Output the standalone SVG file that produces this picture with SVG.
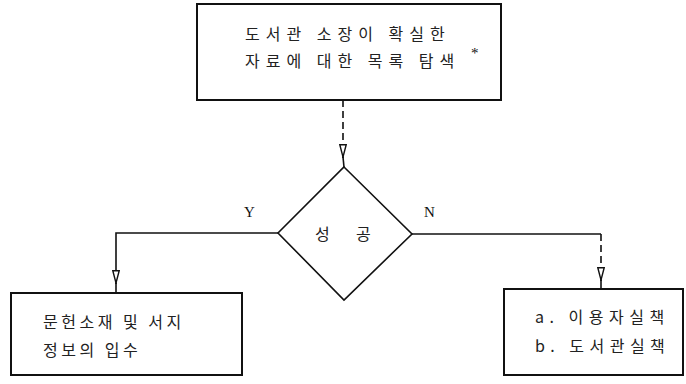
<svg xmlns="http://www.w3.org/2000/svg" width="686" height="384" viewBox="0 0 686 384">
<style>
.box{fill:#fff;stroke:#111;stroke-width:2}
.t{font-family:"Noto Sans CJK KR","Noto Sans",sans-serif;font-size:16px;fill:#222;letter-spacing:3.5px}
.top{letter-spacing:6px}
.opt{letter-spacing:5.5px}
.lbl{font-family:"Liberation Serif",serif;font-size:15px;fill:#111}
.c{fill:none;stroke:#111;stroke-width:1.6}
.d{stroke-dasharray:7 4}
</style>
<defs>
<marker id="ah" viewBox="0 0 14 8" refX="14" refY="4" markerWidth="14" markerHeight="8" markerUnits="userSpaceOnUse" orient="auto">
<path d="M0.8,0.8 L0.8,7.2 L13,4 Z" fill="#fff" stroke="#111" stroke-width="1.4"/>
</marker>
</defs>
<rect width="686" height="384" fill="#fff"/>
<g id="connectors">
<path class="c d" d="M343,100 V158" marker-end="url(#ah)"/>
<line class="c" x1="343" y1="157" x2="344" y2="167"/>
<path class="c" d="M278,233 H116 V284" marker-end="url(#ah)"/>
<line class="c" x1="116" y1="283" x2="116" y2="293"/>
<path class="c" d="M412,234 H601"/>
<path class="c d" d="M601,234 V281" marker-end="url(#ah)"/>
<line class="c" x1="601" y1="280" x2="601" y2="289"/>
<text class="lbl" x="244" y="217">Y</text>
<text class="lbl" x="424" y="217">N</text>
</g>
<g id="search">
<rect class="box" x="197" y="4" width="304" height="96"/>
<text class="t top" x="245" y="40">도서관 소장이 확실한</text>
<text class="t top" x="245" y="67">자료에 대한 목록 탐색</text>
<text class="lbl" x="471" y="58" font-size="14">*</text>
</g>
<g id="decision">
<polygon points="344,167 412,234 344,300 278,233" fill="#fff" stroke="#111" stroke-width="1.6"/>
<text class="t" x="315" y="240">성</text>
<text class="t" x="356" y="240">공</text>
</g>
<g id="success">
<rect class="box" x="11" y="293" width="231" height="82"/>
<text class="t" x="43" y="328">문헌소재 및 서지</text>
<text class="t" x="43" y="356">정보의 입수</text>
</g>
<g id="failure">
<rect class="box" x="504" y="289" width="179" height="86"/>
<text class="t opt" x="535" y="323">a. 이용자실책</text>
<text class="t opt" x="535" y="352">b. 도서관실책</text>
</g>
</svg>
